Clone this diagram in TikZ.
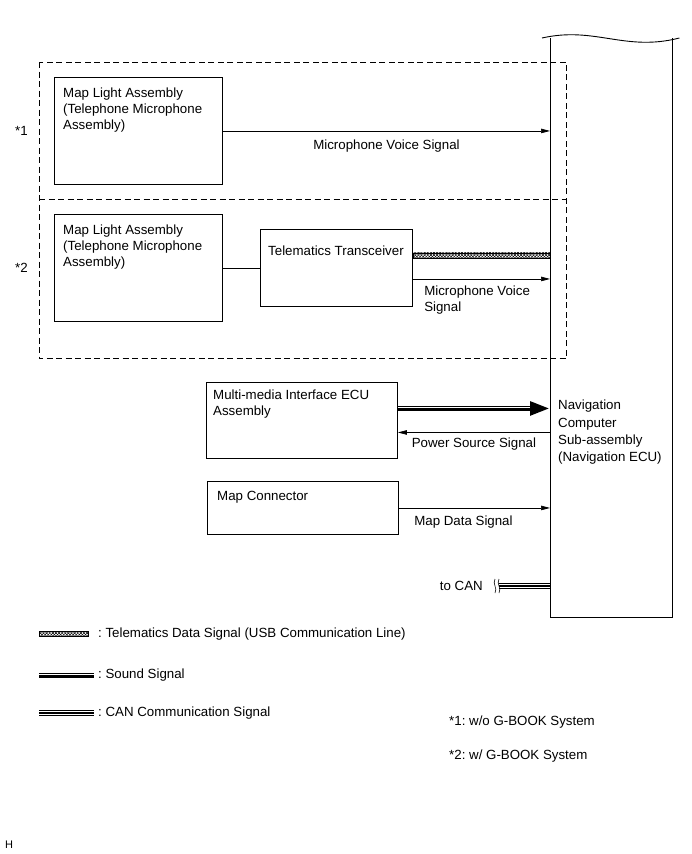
\documentclass[tikz,border=0pt]{standalone}
\usepackage{fontspec}
\setmainfont{Liberation Sans}
\frenchspacing
\usetikzlibrary{arrows.meta,positioning,calc,patterns.meta}

\begin{document}
\begin{tikzpicture}[x=1pt, y=-1pt,
    txt/.style={font=\fontsize{13.3}{16}\selectfont, inner sep=0, align=left},
    unit_box/.style={draw, line width=0.9pt, anchor=north west, inner sep=0},
    grp_box/.style={anchor=north west, inner sep=0},
    dash_line/.style={line width=0.9pt, dash pattern=on 6pt off 3.5pt},
    arr/.style={-{Triangle[length=9pt,width=4.5pt]}, line width=0.7pt},
    sound/.style={line width=5pt,
                  postaction={draw=white, line width=0.4pt, transform canvas={yshift=1pt}}},
    sound_arr/.style={line width=5pt, -{Triangle[length=20pt,width=13pt]},
                      postaction={draw=white, line width=0.4pt, -, shorten >=20pt,
                                  transform canvas={yshift=1pt}}},
    usb/.style={draw, line width=0.5pt,
                pattern={Lines[angle=45,distance=2.2pt,line width=0.5pt]},
                postaction={pattern={Lines[angle=-45,distance=2.2pt,line width=0.5pt]}}},
    can/.style={line width=6.5pt, postaction={draw=white, line width=4.3pt},
                postaction={draw=black, line width=1.2pt}}
]
\useasboundingbox (0,0) rectangle (691,854);

% Navigation ECU (right)
\node[grp_box, minimum width=122pt, minimum height=579pt] (nav_box) at (550,38) {};
\draw[line width=0.9pt] (nav_box.north west) -- (nav_box.south west)
    -- (nav_box.south east) -- (nav_box.north east);
\draw[line width=0.9pt] ([xshift=-8pt]nav_box.north west)
    .. controls (595,26) and (625,52) .. ([xshift=7pt]nav_box.north east);

% Option groups
\node[grp_box, minimum width=527pt, minimum height=137pt] (grp1) at (39,62) {};
\node[grp_box, minimum width=527pt, minimum height=159pt] (grp2) at (39,199) {};
\draw[dash_line] (grp1.north west) rectangle (grp2.south east);
\draw[dash_line] (grp1.south west) -- (grp1.south east);

% *1: map light only
\node[unit_box, minimum width=168pt, minimum height=107pt] (map_box1) at (54,77) {};
\node[txt, anchor=north west] (map_txt1) at ([shift={(9pt,-11pt)}]map_box1.north west)
    {Map Light Assembly\\(Telephone Microphone\\Assembly)};
\node[txt, left=26pt of map_box1.west] (star1) {*1};
\draw[arr] (map_box1.east) -- (map_box1.east -| nav_box.west)
    node[txt, midway, below=9pt] {Microphone Voice Signal};

% *2: map light + transceiver
\node[unit_box, minimum width=168pt, minimum height=107pt] (map_box2) at (54,214) {};
\node[txt, anchor=north west] (map_txt2) at ([shift={(9pt,-11pt)}]map_box2.north west)
    {Map Light Assembly\\(Telephone Microphone\\Assembly)};
\node[txt, left=26pt of map_box2.west] (star2) {*2};
\node[unit_box, minimum width=152pt, minimum height=77pt] (tele_box) at (260,229) {};
\node[txt, anchor=north west] (tele_txt) at ([shift={(8pt,-17pt)}]tele_box.north west)
    {Telematics Transceiver};
\draw[line width=0.9pt] (map_box2.east) -- (tele_box.west);
\draw[usb] ([yshift=15pt]tele_box.east) rectangle ([yshift=10pt]tele_box.east -| nav_box.west);
\draw[arr] ([yshift=-11pt]tele_box.east) -- ([yshift=-11pt]tele_box.east -| nav_box.west)
    node[txt, pos=0, anchor=north west, xshift=11pt, yshift=-7pt] {Microphone Voice\\Signal};

% Multi-media interface ECU
\node[unit_box, minimum width=191pt, minimum height=76pt] (mm_box) at (206,382) {};
\node[txt, anchor=north west] (mm_txt) at ([shift={(7pt,-8pt)}]mm_box.north west)
    {Multi-media Interface ECU\\Assembly};
\draw[sound_arr] ([yshift=12pt]mm_box.east) -- ([yshift=12pt]mm_box.east -| nav_box.west);
\draw[arr] ([yshift=-12pt]mm_box.east -| nav_box.west) -- ([yshift=-12pt]mm_box.east)
    node[txt, midway, below=5pt] {Power Source Signal};

\node[txt, anchor=north west, font=\fontsize{13.3}{17.3}\selectfont] (nav_txt)
    at ([shift={(8pt,-18pt)}]nav_box.west |- mm_box.north)
    {Navigation\\Computer\\Sub-assembly\\(Navigation ECU)};

% Map connector
\node[unit_box, minimum width=191pt, minimum height=53pt] (conn_box) at (207,481) {};
\node[txt, anchor=north west] (conn_txt) at ([shift={(10pt,-10pt)}]conn_box.north west)
    {Map Connector};
\draw[arr] (conn_box.east) -- (conn_box.east -| nav_box.west)
    node[txt, midway, below=8pt, xshift=-11pt] {Map Data Signal};

% CAN
\coordinate (can_end) at (499,586);
\draw[can] (can_end) -- (can_end -| nav_box.west);
\draw[line width=0.6pt] ([shift={(-4pt,7pt)}]can_end)
    .. controls +(-3pt,-5pt) and +(3pt,5pt) .. ([shift={(-4pt,-7pt)}]can_end);
\draw[line width=0.6pt] ([shift={(0pt,7pt)}]can_end)
    .. controls +(-3pt,-5pt) and +(3pt,5pt) .. ([shift={(0pt,-7pt)}]can_end);
\node[txt, left=16pt of can_end] (can_txt) {to CAN};

% Legend
\coordinate (leg_usb) at (39,634);
\draw[usb] ([yshift=2.5pt]leg_usb) rectangle ++(49,5);
\node[txt, anchor=west] (leg_usb_txt) at ([xshift=59pt]leg_usb)
    {: Telematics Data Signal (USB Communication Line)};

\coordinate (leg_sound) at (39,675);
\draw[sound] (leg_sound) -- ++(55,0);
\node[txt, anchor=west] (leg_sound_txt) at ([xshift=59pt]leg_sound) {: Sound Signal};

\coordinate (leg_can) at (39,713);
\draw[can] (leg_can) -- ++(55,0);
\node[txt, anchor=west] (leg_can_txt) at ([xshift=59pt]leg_can) {: CAN Communication Signal};

\node[txt, anchor=west] (note1) at (449,722) {*1: w/o G-BOOK System};
\node[txt, anchor=west] (note2) at (449,756) {*2: w/ G-BOOK System};

\node[txt, anchor=west, font=\fontsize{11}{13}\selectfont] (corner_h) at (5,845) {H};

\end{tikzpicture}
\end{document}
